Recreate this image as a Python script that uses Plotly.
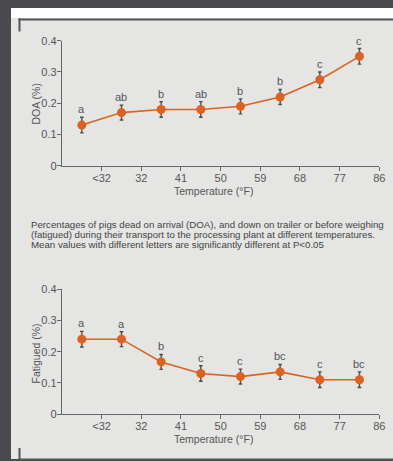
import plotly.graph_objects as go

# Temperature classes (°F) and the two measured series
tick_labels = ["<32", "32", "41", "50", "59", "68", "77", "86"]
tick_positions = [1, 2, 3, 4, 5, 6, 7, 8]
class_centres = [0.5, 1.5, 2.5, 3.5, 4.5, 5.5, 6.5, 7.5]

doa_values = [0.13, 0.17, 0.18, 0.18, 0.19, 0.22, 0.275, 0.35]
doa_errors = [0.025, 0.024, 0.025, 0.025, 0.024, 0.024, 0.025, 0.025]
doa_letters = ["a", "ab", "b", "ab", "b", "b", "c", "c"]

fatigued_values = [0.24, 0.24, 0.167, 0.13, 0.12, 0.135, 0.11, 0.11]
fatigued_errors = [0.025, 0.024, 0.024, 0.025, 0.024, 0.024, 0.025, 0.025]
fatigued_letters = ["a", "a", "b", "c", "c", "bc", "c", "bc"]

y_ticks = [0, 0.1, 0.2, 0.3, 0.4]
y_tick_labels = ["0", "0.1", "0.2", "0.3", "0.4"]

caption_lines = [
    "Percentages of pigs dead on arrival (DOA), and down on trailer or before weighing",
    "(fatigued) during their transport to the processing plant at different temperatures.",
    "Mean values with different letters are significantly different at P<0.05",
]

W, H = 393, 461
FONT = "Liberation Sans, Arial, sans-serif"
ORANGE = "#dc6221"
AXIS = "#666666"
TEXT = "#555555"
PANEL = "#e5e5e3"
DARK = "#4a4a4e"


def px(x):
    return x / W


def py(y):
    return 1 - y / H


fig = go.Figure()

panels = [
    ("x", "y", doa_values, doa_errors, doa_letters),
    ("x2", "y2", fatigued_values, fatigued_errors, fatigued_letters),
]

for xa, ya, vals, errs, letters in panels:
    fig.add_trace(go.Scatter(
        x=class_centres, y=vals, xaxis=xa, yaxis=ya,
        mode="lines+markers",
        line=dict(color=ORANGE, width=1.6),
        marker=dict(color=ORANGE, size=9),
        error_y=dict(type="data", array=errs, visible=True,
                     color="#4e4e4e", thickness=1.4, width=1.8),
        showlegend=False, hoverinfo="skip",
    ))
    for cx, v, e, lab in zip(class_centres, vals, errs, letters):
        fig.add_annotation(
            x=cx, y=v + e, xref=xa, yref=ya, text=lab, showarrow=False,
            xanchor="center", yanchor="bottom", yshift=0,
            font=dict(family=FONT, size=11, color=TEXT),
        )

axis_common = dict(
    showline=True, linecolor=AXIS, linewidth=1.3,
    ticks="outside", ticklen=4, tickwidth=1.2, tickcolor=AXIS,
    showgrid=False, zeroline=False, automargin=False,
    tickfont=dict(family=FONT, size=11, color=TEXT),
    fixedrange=True,
)
x_axis_style = dict(range=[0, 8], tickvals=tick_positions, ticktext=tick_labels,
                    ticklabelstandoff=-2, **axis_common)
y_axis_style = dict(range=[0, 0.4], tickvals=y_ticks, ticktext=y_tick_labels,
                    ticklabelstandoff=-2, **axis_common)

fig.update_layout(
    template="none",
    width=W, height=H,
    margin=dict(l=0, r=0, t=0, b=0, autoexpand=False),
    paper_bgcolor=DARK,
    plot_bgcolor="rgba(0,0,0,0)",
    xaxis=dict(domain=[px(62), px(379.3)], anchor="y", **x_axis_style),
    yaxis=dict(domain=[py(165.7), py(40.7)], anchor="x", **y_axis_style),
    xaxis2=dict(domain=[px(62), px(379.3)], anchor="y2", **x_axis_style),
    yaxis2=dict(domain=[py(414), py(289.3)], anchor="x2", **y_axis_style),
)

# Axis titles
for text, ycen in [("DOA (%)", 104), ("Fatigued (%)", 354)]:
    fig.add_annotation(x=px(35.5), y=py(ycen), xref="paper", yref="paper",
                       text=text, textangle=-90, showarrow=False,
                       xanchor="center", yanchor="middle",
                       font=dict(family=FONT, size=10.5, color=TEXT))
for ycen in [191.5, 439]:
    fig.add_annotation(x=px(213), y=py(ycen), xref="paper", yref="paper",
                       text="Temperature (°F)", showarrow=False,
                       xanchor="center", yanchor="middle",
                       font=dict(family=FONT, size=10.5, color=TEXT))

# Caption between the two charts
for i, line in enumerate(caption_lines):
    fig.add_annotation(x=px(29), y=py(224 + 10.2 * i), xref="paper", yref="paper",
                       text=line, showarrow=False, xanchor="left", yanchor="middle",
                       font=dict(family=FONT, size=9.7, color="#444444"))

# Page panel and frame
shapes = [
    dict(type="rect", x0=px(11), x1=px(393), y0=py(459), y1=py(8),
         fillcolor=PANEL, line=dict(width=0)),
    dict(type="rect", x0=px(11), x1=px(393), y0=py(18), y1=py(8),
         fillcolor="#ffffff", line=dict(width=0)),
    dict(type="line", x0=px(18.5), x1=px(393), y0=py(19.5), y1=py(19.5),
         line=dict(color="#555555", width=2)),
    dict(type="line", x0=px(19.5), x1=px(19.5), y0=py(18.5), y1=py(31.5),
         line=dict(color="#555555", width=2)),
    dict(type="line", x0=px(19.5), x1=px(19.5), y0=py(448), y1=py(460),
         line=dict(color="#555555", width=2)),
    dict(type="line", x0=px(18.5), x1=px(393), y0=py(459.5), y1=py(459.5),
         line=dict(color="#555555", width=2)),
]
for s in shapes:
    fig.add_shape(xref="paper", yref="paper", layer="below", **s)

fig.write_html("out.html")
